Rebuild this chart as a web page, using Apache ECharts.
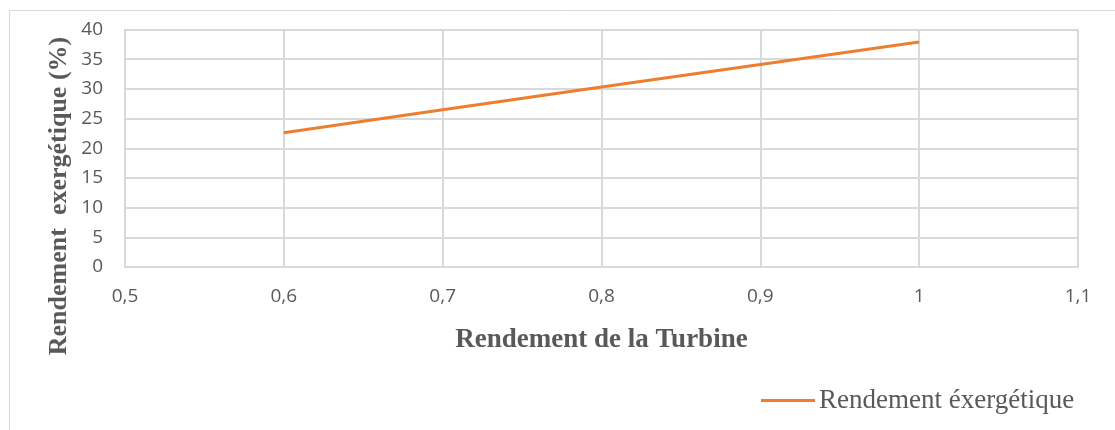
<!DOCTYPE html>
<html>
<head>
<meta charset="utf-8">
<script src="https://cdn.jsdelivr.net/npm/echarts@6/dist/echarts.min.js"></script>
<style>
  html, body { margin: 0; padding: 0; background: #ffffff; }
  #chart { width: 1115px; height: 430px; }
</style>
</head>
<body>
<div id="chart"></div>
<script>
// Turbine efficiency (x) against exergy efficiency in percent (y)
const turbineEfficiency = [0.6, 0.7, 0.8, 0.9, 1.0];
const exergyEfficiency = [22.6, 26.5, 30.3, 34.1, 37.9];
const seriesName = 'Rendement éxergétique';
const xTitle = 'Rendement de la Turbine';
const yTitle = 'Rendement  exergétique (%)';

const chart = echarts.init(document.getElementById('chart'), null, { renderer: 'canvas' });

const gridColor = '#d9d9d9';
const textColor = '#595959';
const serif = '"Liberation Serif", "DejaVu Serif", serif';
const sans = '"Open Sans", "Noto Sans", sans-serif';

const points = turbineEfficiency.map((x, i) => [x, exergyEfficiency[i]]);

chart.setOption({
  animation: false,
  backgroundColor: '#ffffff',
  graphic: [{
    type: 'rect',
    shape: { x: 9.5, y: 10.5, width: 1200, height: 500 },
    style: { fill: 'none', stroke: gridColor, lineWidth: 1 },
    silent: true,
    z: -10
  }, {
    // vertical axis title, centred on its own line
    type: 'text',
    x: 59,
    y: 196,
    rotation: Math.PI / 2,
    style: {
      text: yTitle,
      fontFamily: serif,
      fontSize: 26,
      fontWeight: 'bold',
      fill: textColor,
      align: 'center',
      verticalAlign: 'middle'
    },
    silent: true
  }],
  grid: { left: 125, right: 37, top: 29.5, bottom: 163, containLabel: false, outerBoundsMode: 'none' },
  legend: {
    left: 761,
    top: 387,
    padding: 0,
    icon: 'rect',
    itemWidth: 54,
    itemHeight: 3,
    itemGap: 10,
    textStyle: { fontFamily: serif, fontSize: 27, color: textColor, lineHeight: 27, padding: [0, 0, 0, -1] },
    data: [seriesName]
  },
  xAxis: {
    type: 'value',
    min: 0.5,
    max: 1.1,
    interval: 0.1,
    name: xTitle,
    nameLocation: 'middle',
    nameGap: 60,
    nameTextStyle: { fontFamily: serif, fontSize: 27, fontWeight: 'bold', color: textColor },
    axisLine: { show: true, lineStyle: { color: gridColor, width: 2 } },
    axisTick: { show: false },
    splitLine: { show: true, lineStyle: { color: gridColor, width: 2 } },
    axisLabel: {
      margin: 20,
      fontFamily: sans,
      fontSize: 19,
      color: textColor,
      formatter: v => String(Math.round(v * 10) / 10).replace('.', ',')
    }
  },
  yAxis: {
    type: 'value',
    min: 0,
    max: 40,
    interval: 5,
    axisLine: { show: true, lineStyle: { color: gridColor, width: 2 } },
    axisTick: { show: false },
    splitLine: { show: true, lineStyle: { color: gridColor, width: 2 } },
    axisLabel: { margin: 22, fontFamily: sans, fontSize: 19, color: textColor }
  },
  series: [{
    name: seriesName,
    type: 'line',
    data: points,
    symbol: 'none',
    itemStyle: { color: '#ED7D31' },
    lineStyle: { color: '#ED7D31', width: 3 }
  }]
});
</script>
</body>
</html>
